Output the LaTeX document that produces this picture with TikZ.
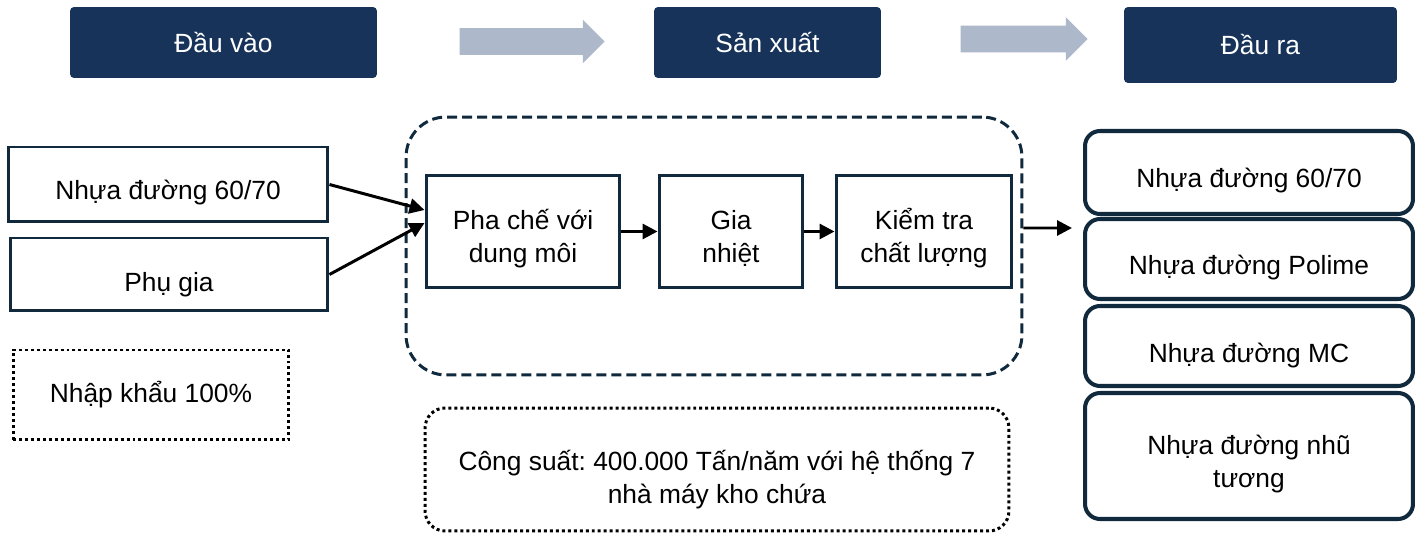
\documentclass[tikz,border=0pt]{standalone}
\usepackage{fontspec}
\setmainfont{Liberation Sans}
\frenchspacing
\usetikzlibrary{shapes.arrows,arrows.meta}
\definecolor{navy}{HTML}{17335A}
\definecolor{ink}{HTML}{10293C}
\definecolor{steel}{HTML}{ADB9CA}

\begin{document}
\begin{tikzpicture}[x=0.02cm, y=-0.02cm,
	every node/.style={font=\fontsize{15}{19}\selectfont, align=center, inner sep=0pt},
	header/.style={rectangle, rounded corners=0.08cm, fill=navy, text=white},
	flow/.style={single arrow, fill=steel, inner xsep=0pt, inner ysep=0.26cm, single arrow head extend=0.17cm},
	inbox/.style={rectangle, draw=ink, line width=1.7pt},
	outbox/.style={rectangle, rounded corners=0.3cm, draw=ink, line width=2.3pt},
	dotbox/.style={rectangle, draw=black, line width=1.7pt, dash pattern=on 1.7pt off 1.7pt},
	tx/.style={text height=#1, text depth=0pt},
	link/.style={-{Triangle[length=0.3cm, width=0.3cm]}, line width=1.7pt}]
	\useasboundingbox (0,0) rectangle (1421,533);
	% headers
	\node (hin) at (223.5,42.5) [header, minimum width=6.14cm, minimum height=1.42cm] {Đầu vào};
	\node (hprod) at (767.5,42.5) [header, minimum width=4.54cm, minimum height=1.42cm] {Sản xuất};
	\node (hout) at (1260.5,45) [header, minimum width=5.46cm, minimum height=1.52cm] {Đầu ra};
	\node (flow1) at (525.5,41.5) [flow, minimum height=2.9cm] {};
	\node (flow2) at (1017.5,39) [flow, minimum height=2.54cm] {};
	% inputs
	\node (ina) at (168,184.5) [inbox, tx=0.62cm, minimum width=6.4cm, minimum height=1.5cm] {Nhựa đường 60/70};
	\node (inb) at (169,274.5) [inbox, tx=0.68cm, minimum width=6.36cm, minimum height=1.46cm] {Phụ gia};
	\node (import) at (151,395) [dotbox, tx=0.32cm, minimum width=5.52cm, minimum height=1.8cm] {Nhập khẩu 100\%};
	% production
	\node (plant) at (714,246) [rectangle, draw=ink, line width=1.7pt, dash pattern=on 0.2cm off 0.1cm,
		rounded corners=0.8cm, minimum width=12.32cm, minimum height=5.16cm] {};
	\node (mix) at (523,231.5) [inbox, tx=1.26cm, minimum width=3.88cm, minimum height=2.26cm] {Pha chế với\\dung môi};
	\node (heat) at (731,231.5) [inbox, tx=1.26cm, minimum width=2.88cm, minimum height=2.26cm] {Gia\\nhiệt};
	\node (check) at (924,231.5) [inbox, tx=1.26cm, minimum width=3.52cm, minimum height=2.26cm] {Kiểm tra\\chất lượng};
	\node (cap) at (717,469.5) [dotbox, tx=1.36cm, rounded corners=0.4cm, minimum width=11.68cm, minimum height=2.46cm]
		{Công suất: 400.000 Tấn/năm với hệ thống 7\\nhà máy kho chứa};
	% outputs
	\node (outa) at (1249,172.5) [outbox, tx=0.62cm, minimum width=6.56cm, minimum height=1.66cm] {Nhựa đường 60/70};
	\node (outb) at (1249,259) [outbox, tx=0.64cm, minimum width=6.56cm, minimum height=1.6cm] {Nhựa đường Polime};
	\node (outc) at (1249,346) [outbox, tx=0.68cm, minimum width=6.56cm, minimum height=1.6cm] {Nhựa đường MC};
	\node (outd) at (1249,456) [outbox, tx=1.26cm, minimum width=6.56cm, minimum height=2.52cm] {Nhựa đường nhũ\\tương};
	\coordinate (outtip) at (1072,228);
	% connectors
	\draw[link] (ina.east) -- ([yshift=0.43cm]mix.west);
	\draw[link] (inb.east) -- ([yshift=0.17cm]mix.west);
	\draw[link] (mix) -- (heat);
	\draw[link] (heat) -- (check);
	\draw[link] ([yshift=0.36cm]plant.east) -- (outtip);
\end{tikzpicture}
\end{document}
